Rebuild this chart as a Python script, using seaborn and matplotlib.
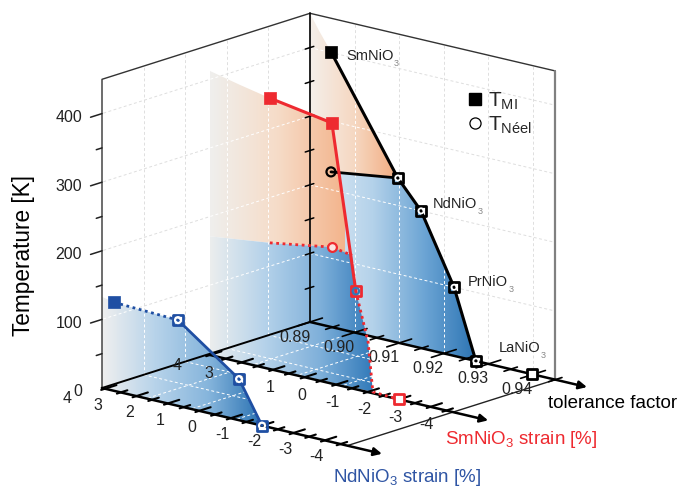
"""
Nickelate phase diagram: T_MI / T_Neel vs tolerance factor and epitaxial strain
Three parallel walls drawn in an oblique projection
"""

import numpy as np
import matplotlib.pyplot as plt
from matplotlib.lines import Line2D
from matplotlib.patches import Polygon
import seaborn as sns

sns.set_theme(style='white')
plt.rcParams['font.family'] = ['Liberation Sans', 'DejaVu Sans']
plt.rcParams['mathtext.default'] = 'regular'

# tolerance factor wall (bulk compounds)
tol_mi = [0.8947, 0.9097, 0.9149, 0.9223, 0.9272]
T_mi = [401, 240, 200, 100, 0]
tol_neel = [0.8947, 0.9097]
T_neel = [226, 240]
tol_la = [0.9398]
T_la = [0]
tol_edge = [0.89, 0.892]
T_edge = [450, 428]
T_neel_edge = 224

# SmNiO3 strain wall
sm_mi_strain = [1.1, -0.87, -1.63]
sm_mi_T = [395, 380, 143]
sm_dot_strain = [-1.63, -2.02, -2.17, -3.0]
sm_dot_T = [143, 73, 2, 0]
sm_neel_strain = [3.0, 1.1, -0.87, -1.51]
sm_neel_T = [173, 184, 199, 194]
sm_top_strain = [3.0, 2.05]
sm_top_T = [414, 404]

# NdNiO3 strain wall
nd_strain = [0.675, -1.27, -2.0]
nd_T = [125, 60, 0]
nd_first_strain = [2.71]
nd_first_T = [129]
nd_edge_strain = [3.1]
nd_edge_T = [133]

# axes
T_ticks = [0, 50, 100, 150, 200, 250, 300, 350, 400]
T_labels = [0, 100, 200, 300, 400]
T_max = 450
tol_ticks = [0.89, 0.90, 0.91, 0.92, 0.93, 0.94]
tol_end = 0.945
strain_labels_nd = [4, 3, 2, 1, 0, -1, -2, -3, -4]
strain_labels_sm = [4, 3, 2, 1, 0, -1, -2, -3, -4]
depth_grid = [0.2, 0.4, 0.6, 0.8]

# projection settings
SLOPE = 0.235
K_PX = 0.686


def floor_tol(t):
    x = 310 + (np.asarray(t, float) - 0.89) * 4460
    return x, 322 + (x - 310) * SLOPE


def floor_sm(s):
    x = 210 + (3 - np.asarray(s, float)) * 31.5
    return x, 355 + (x - 210) * SLOPE


def floor_nd(s):
    x = 105 + (3 - np.asarray(s, float)) * 31.4
    return x, 388 + (x - 102) * SLOPE


def on_wall(floor, u, T):
    x, y = floor(u)
    return x, y - np.asarray(T, float) * K_PX


def on_side(d, T):
    return 310 - 208 * np.asarray(d, float), 322 + 66 * np.asarray(d, float) - np.asarray(T, float) * K_PX


def draw_wall(ax, xs, ys, colors, x0, x1, z):
    cmap = sns.blend_palette(colors, as_cmap=True)
    grad = np.linspace(0, 1, 256).reshape(1, -1)
    im = ax.imshow(grad, extent=(x0, x1, 487, 0), cmap=cmap, aspect='auto', zorder=z)
    poly = Polygon(np.column_stack([xs, ys]), closed=True, transform=ax.transData)
    im.set_clip_path(poly)
    return poly


def grid_lines(ax, clip=None, color='#dedede', z=1):
    segs = []
    for T in range(100, 401, 100):
        segs.append(on_side([0, 1], [T, T]))
        segs.append(on_wall(floor_tol, [0.89, tol_end], [T, T]))
    for d in depth_grid:
        segs.append(on_side([d, d], [0, T_max]))
    for t in tol_ticks[1:]:
        segs.append(on_wall(floor_tol, [t, t], [0, T_max]))
    for x, y in segs:
        ln, = ax.plot(x, y, color=color, lw=0.7, ls=(0, (3, 2.5)), zorder=z)
        if clip is not None:
            ln.set_clip_path(clip)


def floor_grid(ax):
    # floor lines are white so they only show up over the coloured walls
    for d in depth_grid:
        x0, y0 = on_side(d, 0)
        ax.plot([x0, x0 + 245], [y0, y0 + 245 * SLOPE], color='white', lw=0.7, ls=(0, (3, 2.5)), zorder=6)
    for t in tol_ticks[1:]:
        x0, y0 = floor_tol(t)
        ax.plot([x0, x0 - 208], [y0, y0 + 66], color='white', lw=0.7, ls=(0, (3, 2.5)), zorder=6)


def strain_ticks(ax, floor, lo, hi, z=8):
    # ticks run along the depth direction, long on the far side
    ux, uy = 208 / 218, -66 / 218
    for s in np.arange(lo, hi - 0.01, -0.5):
        x, y = floor(s)
        ln = 12 if float(s).is_integer() else 7
        ax.plot([x - 4 * ux, x + ln * ux], [y - 4 * uy, y + ln * uy], color='black', lw=1.5, zorder=z)


def main():
    fig = plt.figure(figsize=(6.8, 4.87), dpi=100)
    ax = fig.add_axes([0, 0, 1, 1])
    ax.set_xlim(0, 680)
    ax.set_ylim(487, 0)
    ax.set_autoscale_on(False)
    ax.axis('off')

    grid_lines(ax)

    # tolerance wall
    x, y = on_wall(floor_tol, tol_edge + tol_mi[:2] + [tol_neel[0], tol_edge[0]],
                   T_edge + T_mi[:2] + [T_neel[0], T_neel_edge])
    p1 = draw_wall(ax, x, y, ['#f4efea', '#f6d8c2', '#f2ab7f'], 310, 398, 2)
    x, y = on_wall(floor_tol, [tol_edge[0], tol_neel[0]] + tol_mi[1:] + [tol_edge[0]],
                   [T_neel_edge, T_neel[0]] + T_mi[1:] + [0])
    p2 = draw_wall(ax, x, y, ['#dce9f4', '#b4d2ea', '#6ba4d4', '#2a72b2'], 320, 478, 2)
    grid_lines(ax, clip=p1, color='white', z=3)
    grid_lines(ax, clip=p2, color='white', z=3)

    # SmNiO3 wall
    x, y = on_wall(floor_sm, sm_top_strain + sm_mi_strain[:2] + sm_neel_strain[::-1],
                   sm_top_T + sm_mi_T[:2] + sm_neel_T[::-1])
    p3 = draw_wall(ax, x, y, ['#efefed', '#f6dcc8', '#f3b48c'], 210, 345, 4)
    x, y = on_wall(floor_sm, sm_neel_strain + sm_dot_strain[:3] + [sm_neel_strain[0]],
                   sm_neel_T + sm_dot_T[:3] + [0])
    p4 = draw_wall(ax, x, y, ['#eceeee', '#b5d2ea', '#7fb0da', '#2f78b8'], 210, 375, 4)
    grid_lines(ax, clip=p3, color='white', z=5)
    grid_lines(ax, clip=p4, color='white', z=5)

    # NdNiO3 wall
    x, y = on_wall(floor_nd, nd_edge_strain + nd_first_strain + nd_strain + [nd_edge_strain[0]],
                   nd_edge_T + nd_first_T + nd_T + [0])
    p5 = draw_wall(ax, x, y, ['#efefef', '#b7d3ea', '#86b5dc', '#2a72b2'], 102, 262, 5)
    grid_lines(ax, clip=p5, color='white', z=5.5)
    floor_grid(ax)

    # box outline
    sx, sy = on_side([0, 1, 1, 1], [T_max, T_max, 0, 0])
    ax.plot(sx, sy, color='#333333', lw=1.0, zorder=7)
    bx, by = on_wall(floor_tol, [0.89, tol_end], [T_max, T_max])
    ax.plot(bx, by, color='#333333', lw=1.0, zorder=7)
    rx, ry = on_wall(floor_tol, [tol_end, tol_end], [T_max, 0])
    ax.plot(rx, ry, color='#808080', lw=1.6, zorder=7)
    cx, cy = on_wall(floor_tol, [0.89, 0.89], [T_max, 0])
    ax.plot(cx, cy, color='black', lw=1.2, zorder=7)
    fx, fy = on_side([0, 1], [0, 0])
    ax.plot(fx, fy, color='black', lw=1.4, zorder=7)
    ax.plot([floor_tol(tol_end)[0], floor_tol(tol_end)[0] - 208],
            [floor_tol(tol_end)[1], floor_tol(tol_end)[1] + 66], color='#222222', lw=1.0, zorder=7)

    # axis arrows
    arrow = dict(arrowstyle='-|>', color='black', lw=1.8, mutation_scale=12, shrinkA=0, shrinkB=0)
    for floor, a, b in [(floor_tol, 0.89, 0.9521), (floor_sm, 3, -5.83), (floor_nd, 3.1, -5.82)]:
        ax.annotate('', xy=floor(b), xytext=floor(a), arrowprops=arrow, zorder=8)

    # ticks
    strain_ticks(ax, floor_nd, 3, -4.5)
    strain_ticks(ax, floor_sm, 3, -4.5)
    ux, uy = 208 / 218, -66 / 218
    for t in np.arange(0.89, 0.9451, 0.005):
        tx, ty = floor_tol(t)
        ln = 13 if round(t * 1000) % 10 == 0 else 7
        ax.plot([tx - ln * ux, tx + ln * ux], [ty - ln * uy, ty + ln * uy], color='black', lw=1.2, zorder=8)
    for T in T_ticks[1:]:
        tx, ty = on_side(1, T)
        ln = 12 if T % 100 == 0 else 6
        ax.plot([tx - ln * ux, tx], [ty - ln * uy, ty], color='#222222', lw=1.1, zorder=8)
        tx, ty = on_side(0, T)
        ax.plot([tx - 5 * ux, tx + 4 * ux], [ty - 5 * uy, ty + 4 * uy], color='black', lw=1.1, zorder=8)

    # tick labels
    for T in T_labels:
        tx, ty = on_side(1, T)
        ax.text(82, ty + 4, str(T), ha='right', va='center', fontsize=11.5, color='#222222', zorder=9)
    for t in tol_ticks:
        tx, ty = floor_tol(t)
        ax.text(tx - 15.5, ty + 15, f'{t:.2f}', ha='center', va='center', fontsize=11.5, color='#222222', zorder=9)
    for s in strain_labels_nd:
        lx = 254 + (-2 - s) * 31.2
        ax.text(lx, 442 + (lx - 254) * SLOPE, str(s), ha='center', va='center', fontsize=11.5, color='#222222', zorder=9)
    for s in strain_labels_sm:
        lx = 395 + (-3 - s) * 31.1
        ax.text(lx, 417 + (lx - 395) * SLOPE, str(s), ha='center', va='center', fontsize=11.5, color='#222222', zorder=9)

    # data lines
    black, red, blue = '#000000', '#ee2a30', '#1f4fa3'
    x, y = on_wall(floor_tol, tol_mi, T_mi)
    sns.lineplot(x=x, y=y, sort=False, estimator=None, color=black, lw=2.2, ax=ax, zorder=10)
    x2, y2 = on_wall(floor_tol, tol_neel, T_neel)
    sns.lineplot(x=x2, y=y2, sort=False, estimator=None, color=black, lw=2.0, ax=ax, zorder=10)

    x3, y3 = on_wall(floor_sm, sm_mi_strain, sm_mi_T)
    sns.lineplot(x=x3, y=y3, sort=False, estimator=None, color=red, lw=2.2, ax=ax, zorder=10)
    x4, y4 = on_wall(floor_sm, sm_dot_strain, sm_dot_T)
    ax.plot(x4, y4, color=red, lw=2.0, ls=(0, (1, 1.3)), zorder=10)
    x5, y5 = on_wall(floor_sm, sm_neel_strain[1:], sm_neel_T[1:])
    ax.plot(x5, y5, color=red, lw=2.0, ls=(0, (1, 1.3)), zorder=10)

    x6, y6 = on_wall(floor_nd, nd_strain, nd_T)
    sns.lineplot(x=x6, y=y6, sort=False, estimator=None, color=blue, lw=2.0, ax=ax, zorder=10)
    x7, y7 = on_wall(floor_nd, nd_first_strain + nd_strain[:1], nd_first_T + nd_T[:1])
    ax.plot(x7, y7, color=blue, lw=2.0, ls=(0, (1, 1.3)), zorder=10)

    # markers
    def squares(px, py, col, face, size=50, lw=2.0):
        sns.scatterplot(x=np.atleast_1d(px), y=np.atleast_1d(py), marker='s', s=size, color=col,
                        facecolor=face, edgecolor=col, linewidth=lw, ax=ax, zorder=11, legend=False)

    def rings(px, py, col, size=14, lw=1.3):
        sns.scatterplot(x=np.atleast_1d(px), y=np.atleast_1d(py), marker='o', s=size, color=col,
                        facecolor='none', edgecolor=col, linewidth=lw, ax=ax, zorder=12, legend=False)

    squares(x[0], y[0], black, black, size=80, lw=0.5)
    squares(x[1:], y[1:], black, 'none')
    rings(x[1:], y[1:], 'white')
    lx, ly = on_wall(floor_tol, tol_la, T_la)
    squares(lx, ly, black, 'white')
    rings(x2[0], y2[0], black, size=42, lw=1.6)

    squares(x3[:2], y3[:2], red, red, size=85, lw=0.5)
    squares(x3[2], y3[2], red, 'none')
    rings(x3[2], y3[2], '#2f78b8', size=22, lw=1.5)
    squares(x4[-1], y4[-1], red, 'white')
    nx, ny = on_wall(floor_sm, sm_neel_strain[2], sm_neel_T[2])
    sns.scatterplot(x=[nx], y=[ny], marker='o', s=40, color=red, facecolor='#fbe3e0', edgecolor=red,
                    linewidth=1.6, ax=ax, zorder=12, legend=False)

    fx1, fy1 = on_wall(floor_nd, nd_first_strain, nd_first_T)
    squares(fx1, fy1, blue, blue, size=75, lw=0.5)
    squares(x6, y6, blue, 'none')
    rings(x6, y6, 'white', size=18, lw=1.6)

    # compound labels, the small subscript is grey in the original
    compounds = ['SmNiO', 'NdNiO', 'PrNiO', 'LaNiO']
    for name, tx, ty in zip(compounds, [346, 433, 468, 499], [56, 204, 282, 348]):
        lab = ax.text(tx, ty, name, ha='left', va='center', fontsize=10.5, color='#222222', zorder=13)
        ax.annotate('3', xy=(1, 0), xycoords=lab, xytext=(0.3, -2.5), textcoords='offset points',
                    fontsize=6.5, color='#888888', zorder=13)

    # axis titles
    ax.text(24, 256, 'Temperature [K]', rotation=90, ha='center', va='center', fontsize=16.3, color='black', zorder=13)
    ax.text(548, 403, 'tolerance factor', ha='left', va='center', fontsize=13.5, color='black', zorder=13)
    ax.text(445, 440, 'SmNiO$_3$ strain [%]', ha='left', va='center', fontsize=13.5, color=red, zorder=13)
    ax.text(333, 477, 'NdNiO$_3$ strain [%]', ha='left', va='center', fontsize=13.5, color='#2f55a4', zorder=13)

    # legend
    handles = [
        Line2D([], [], marker='s', ls='', color='black', markersize=8),
        Line2D([], [], marker='o', ls='', markerfacecolor='white', markeredgecolor='black', markersize=8, markeredgewidth=0.9),
    ]
    ax.legend(handles, ['T$_{MI}$', 'T$_{Néel}$'], loc='center left', bbox_to_anchor=(0.667, 1 - 113 / 487),
              frameon=False, fontsize=15, labelspacing=0.12, handletextpad=0.05, handlelength=1.1, borderpad=0)

    plt.savefig('out.png', dpi=100)


if __name__ == "__main__":
    main()
